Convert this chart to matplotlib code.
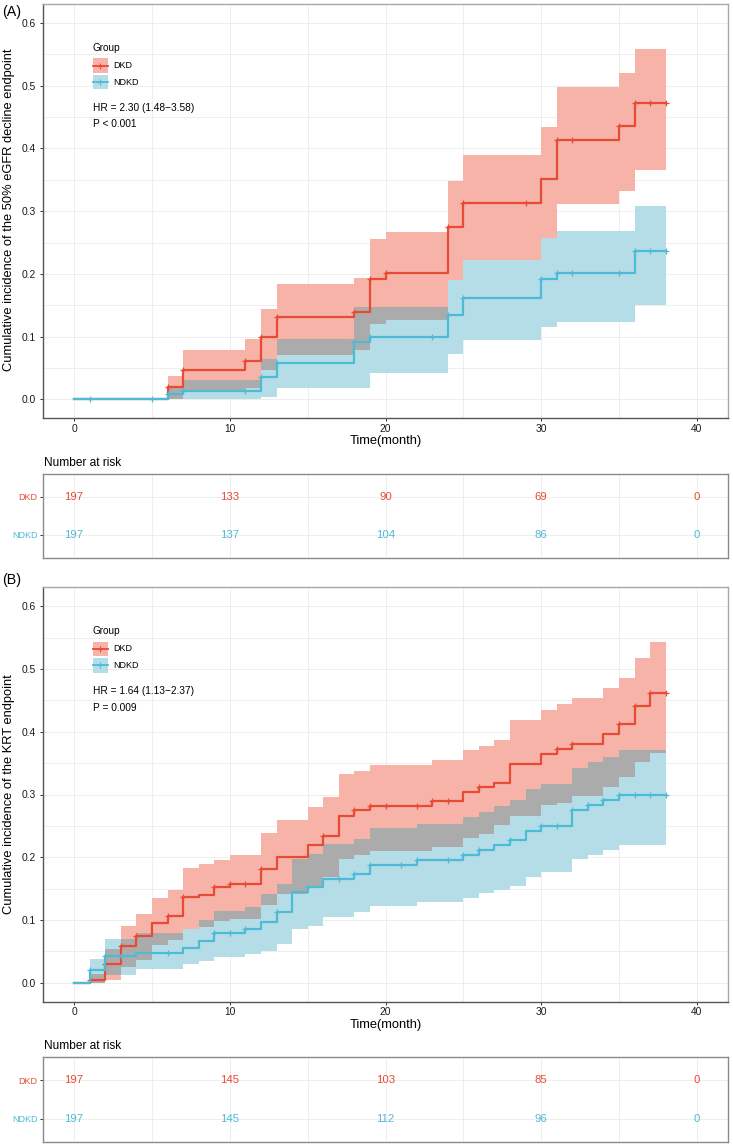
#%%
import matplotlib
matplotlib.use('Agg')
import matplotlib.pyplot as plt
from matplotlib.patches import Rectangle
from matplotlib.ticker import FormatStrFormatter
import numpy as np

plt.rcParams['font.family'] = ['Liberation Sans', 'DejaVu Sans']

#%% data
t_end = 38

# (A) 50% eGFR decline
a_dkd_t    = [0, 6, 7, 11, 12, 13, 18, 19, 20, 24, 25, 30, 31, 35, 36]
a_dkd_est  = [0, 0.020, 0.047, 0.061, 0.099, 0.132, 0.139, 0.192, 0.201, 0.274, 0.313, 0.352, 0.413, 0.435, 0.472]
a_dkd_hi   = [0, 0.038, 0.079, 0.097, 0.144, 0.184, 0.194, 0.256, 0.267, 0.348, 0.390, 0.434, 0.497, 0.520, 0.558]
a_dkd_lo   = [0, 0, 0.014, 0.018, 0.047, 0.071, 0.079, 0.120, 0.126, 0.190, 0.222, 0.257, 0.312, 0.332, 0.365]
a_dkd_cens = [6, 7, 11, 12, 13, 18, 19, 20, 24, 25, 29, 31, 32, 35, 36, 37, 38]

a_ndkd_t    = [0, 6, 7, 12, 13, 18, 19, 24, 25, 30, 31, 36]
a_ndkd_est  = [0, 0.008, 0.013, 0.036, 0.058, 0.091, 0.100, 0.135, 0.162, 0.192, 0.202, 0.237]
a_ndkd_hi   = [0, 0.0175, 0.031, 0.064, 0.096, 0.148, 0.148, 0.190, 0.222, 0.257, 0.269, 0.309]
a_ndkd_lo   = [0, 0, 0, 0.004, 0.018, 0.018, 0.042, 0.072, 0.094, 0.116, 0.124, 0.151]
a_ndkd_cens = [1, 5, 6, 7, 11, 12, 13, 18, 19, 23, 24, 25, 30, 31, 32, 35, 36, 37, 38]

# (B) KRT
b_dkd_t    = [0, 1, 2, 3, 4, 5, 6, 7, 8, 9, 10, 12, 13, 15, 16, 17, 18, 19, 23, 25,
              26, 27, 28, 30, 31, 32, 34, 35, 36, 37]
b_dkd_est  = [0, 0.005, 0.030, 0.058, 0.074, 0.095, 0.107, 0.136, 0.140, 0.152, 0.157, 0.182, 0.200, 0.220,
              0.234, 0.266, 0.275, 0.282, 0.289, 0.304, 0.312, 0.319, 0.349, 0.365, 0.373, 0.381, 0.397,
              0.413, 0.441, 0.462]
b_dkd_hi   = [0, 0.014, 0.054, 0.090, 0.110, 0.135, 0.148, 0.183, 0.189, 0.195, 0.203, 0.238, 0.259, 0.280,
              0.296, 0.332, 0.338, 0.347, 0.355, 0.371, 0.378, 0.387, 0.419, 0.435, 0.444, 0.453, 0.469,
              0.486, 0.517, 0.543]
b_dkd_lo   = [0, 0, 0.005, 0.025, 0.036, 0.060, 0.068, 0.086, 0.089, 0.099, 0.102, 0.124, 0.142, 0.155,
              0.168, 0.198, 0.203, 0.210, 0.216, 0.230, 0.237, 0.251, 0.266, 0.283, 0.287, 0.298, 0.312,
              0.328, 0.352, 0.366]
b_dkd_cens = [1, 2, 3, 4, 6, 7, 9, 10, 11, 12, 16, 18, 19, 20, 22, 23, 24, 26, 31, 32, 35, 36, 37, 38]

b_ndkd_t    = [0, 1, 2, 4, 7, 8, 9, 11, 12, 13, 14, 15, 16, 18, 19, 22, 25, 26, 27, 28, 29, 30, 32, 33, 34, 35]
b_ndkd_est  = [0, 0.020, 0.042, 0.047, 0.055, 0.067, 0.080, 0.086, 0.097, 0.113, 0.145, 0.153, 0.166,
               0.174, 0.188, 0.195, 0.203, 0.211, 0.219, 0.227, 0.242, 0.250, 0.275, 0.283, 0.291, 0.299]
b_ndkd_hi   = [0, 0.038, 0.070, 0.079, 0.086, 0.0995, 0.115, 0.1205, 0.142, 0.158, 0.197, 0.206, 0.2215,
               0.229, 0.247, 0.2536, 0.264, 0.272, 0.281, 0.292, 0.308, 0.316, 0.343, 0.352, 0.360, 0.3705]
b_ndkd_lo   = [0, 0, 0.012, 0.022, 0.030, 0.0355, 0.041, 0.046, 0.051, 0.062, 0.085, 0.091, 0.1045,
               0.1126, 0.123, 0.1286, 0.1355, 0.143, 0.148, 0.155, 0.168, 0.176, 0.1977, 0.203, 0.211, 0.219]
b_ndkd_cens = [1, 2, 3, 6, 9, 10, 11, 13, 15, 17, 18, 19, 21, 22, 24, 25, 26, 28, 30, 31, 32, 33, 34,
               35, 36, 37, 38]

# numbers at risk
risk_times  = [0, 10, 20, 30, 40]
a_risk_dkd  = [197, 133, 90, 69, 0]
a_risk_ndkd = [197, 137, 104, 86, 0]
b_risk_dkd  = [197, 145, 103, 85, 0]
b_risk_ndkd = [197, 145, 112, 96, 0]

groups = ['DKD', 'NDKD']

#%% styling
RED, BLUE = '#E64B35', '#4DBBD5'
RED_FILL, BLUE_FILL, OVERLAP = '#F8B3A8', '#B5DDE8', '#ABABAB'
GRID = '#EBEBEB'

W, H = 733, 1145
fig = plt.figure(figsize=(W/100, H/100), dpi=100)


def fx(px):
    return px/W


def fy(py):
    return 1 - py/H


def box(l, t, r, b):
    return [l/W, 1 - b/H, (r - l)/W, (b - t)/H]


def step_at(times, vals, x):
    idx = np.searchsorted(times, x, side='right') - 1
    return np.asarray(vals)[idx]


def km_panel(ax, dkd, ndkd, hr_txt, p_txt):
    grid = np.append(np.union1d(dkd['t'], ndkd['t']), t_end)
    r_lo, r_hi = step_at(dkd['t'], dkd['lo'], grid), step_at(dkd['t'], dkd['hi'], grid)
    b_lo, b_hi = step_at(ndkd['t'], ndkd['lo'], grid), step_at(ndkd['t'], ndkd['hi'], grid)
    # overlap of the two bands is shown in grey
    o_lo = np.maximum(r_lo, b_lo)
    o_hi = np.maximum(np.minimum(r_hi, b_hi), o_lo)

    ax.fill_between(grid, r_lo, r_hi, step='post', color=RED_FILL, lw=0)
    ax.fill_between(grid, b_lo, b_hi, step='post', color=BLUE_FILL, lw=0)
    ax.fill_between(grid, o_lo, o_hi, step='post', color=OVERLAP, lw=0)

    for d, c in ((dkd, RED), (ndkd, BLUE)):
        tt = np.append(d['t'], t_end)
        vv = np.append(d['est'], d['est'][-1])
        ax.step(tt, vv, where='post', color=c, lw=1.6)
        ax.plot(d['cens'], step_at(d['t'], d['est'], d['cens']), ls='none', marker='+',
                color=c, ms=5, mew=0.9)

    ax.set_xlim(-2, 42)
    ax.set_ylim(-0.03, 0.63)
    ax.set_xticks([0, 10, 20, 30, 40])
    ax.set_xticks([5, 15, 25, 35], minor=True)
    ax.set_yticks(np.arange(0, 0.61, 0.1))
    ax.set_yticks(np.arange(0.05, 0.6, 0.1), minor=True)
    ax.yaxis.set_major_formatter(FormatStrFormatter('%.1f'))
    ax.grid(which='both', color=GRID, lw=0.6)
    ax.set_axisbelow(True)
    ax.tick_params(which='minor', length=0)
    ax.tick_params(which='major', length=2.3, width=0.7, color='#333333',
                   labelsize=7.4, labelcolor='#1a1a1a')
    ax.tick_params(axis='x', pad=1.5)
    ax.tick_params(axis='y', pad=3)
    for s in ('top', 'right'):
        ax.spines[s].set_color('#A8A8A8')
        ax.spines[s].set_linewidth(1.0)
    for s in ('left', 'bottom'):
        ax.spines[s].set_color('#555555')
        ax.spines[s].set_linewidth(1.0)

    # legend, placed by pixel offsets from the top-left corner of the panel
    aw, ah = 685, 414.3

    def ax_xy(dx, dy):
        return dx/aw, 1 - dy/ah

    ax.text(*ax_xy(49.7, 43.7), 'Group', transform=ax.transAxes, fontsize=7.2,
            ha='left', va='center')
    for (y0, y1), lab, c, fc in zip(((54.3, 68.7), (71.0, 85.3)), groups,
                                    (RED, BLUE), (RED_FILL, BLUE_FILL)):
        x0, yb = ax_xy(49.7, y1)
        ax.add_patch(Rectangle((x0, yb), 15/aw, (y1 - y0)/ah, transform=ax.transAxes,
                               facecolor=fc, edgecolor='none', clip_on=False))
        ym = ax_xy(0, (y0 + y1)/2)[1]
        ax.plot([x0, x0 + 15/aw], [ym, ym], transform=ax.transAxes, color=c, lw=1.3,
                clip_on=False)
        ax.plot([x0 + 7.5/aw], [ym], transform=ax.transAxes, marker='+', color=c,
                ms=4.5, mew=0.8, clip_on=False)
        ax.text(*ax_xy(70.3, (y0 + y1)/2), lab, transform=ax.transAxes, fontsize=6.5,
                ha='left', va='center')

    ax.text(*ax_xy(49.7, 103.7), hr_txt, transform=ax.transAxes, fontsize=7.3,
            ha='left', va='center')
    ax.text(*ax_xy(49.7, 120.3), p_txt, transform=ax.transAxes, fontsize=7.3,
            ha='left', va='center')


def risk_table(ax, n_dkd, n_ndkd):
    ax.set_xlim(-2, 42)
    ax.set_ylim(0.4, 2.6)
    for x, n1, n2 in zip(risk_times, n_dkd, n_ndkd):
        ax.text(x, 2, str(n1), color=RED, ha='center', va='center', fontsize=8.2)
        ax.text(x, 1, str(n2), color=BLUE, ha='center', va='center', fontsize=8.2)
    ax.set_xticks(risk_times)
    ax.set_xticks([5, 15, 25, 35], minor=True)
    ax.set_xticklabels([])
    ax.set_yticks([2, 1])
    ax.set_yticklabels(groups)
    for lab, c in zip(ax.get_yticklabels(), (RED, BLUE)):
        lab.set_color(c)
    ax.grid(which='both', color=GRID, lw=0.6)
    ax.set_axisbelow(True)
    ax.tick_params(axis='x', which='both', length=0)
    ax.tick_params(axis='y', length=2.3, width=0.7, color='#333333', labelsize=6.5, pad=1.5)
    for s in ax.spines.values():
        s.set_color('#8A8A8A')
        s.set_linewidth(1.0)


#%% panel A
a_dkd  = dict(t=a_dkd_t, est=a_dkd_est, lo=a_dkd_lo, hi=a_dkd_hi, cens=a_dkd_cens)
a_ndkd = dict(t=a_ndkd_t, est=a_ndkd_est, lo=a_ndkd_lo, hi=a_ndkd_hi, cens=a_ndkd_cens)
ax_a = fig.add_axes(box(43, 4, 728, 418.3))
km_panel(ax_a, a_dkd, a_ndkd, 'HR = 2.30 (1.48\u22123.58)', 'P < 0.001')
tab_a = fig.add_axes(box(43, 474, 728, 557.7))
risk_table(tab_a, a_risk_dkd, a_risk_ndkd)

fig.text(fx(2.5), fy(12), '(A)', fontsize=10.3, ha='left', va='center')
fig.text(fx(9), fy(210), 'Cumulative incidence of the 50% eGFR decline endpoint',
         rotation=90, fontsize=9.3, ha='center', va='center')
fig.text(fx(386), fy(441), 'Time(month)', fontsize=9.3, ha='center', va='center')
fig.text(fx(44), fy(463), 'Number at risk', fontsize=8.6, ha='left', va='center')

#%% panel B
b_dkd  = dict(t=b_dkd_t, est=b_dkd_est, lo=b_dkd_lo, hi=b_dkd_hi, cens=b_dkd_cens)
b_ndkd = dict(t=b_ndkd_t, est=b_ndkd_est, lo=b_ndkd_lo, hi=b_ndkd_hi, cens=b_ndkd_cens)
ax_b = fig.add_axes(box(43, 587.3, 728, 1001.7))
km_panel(ax_b, b_dkd, b_ndkd, 'HR = 1.64 (1.13\u22122.37)', 'P = 0.009')
tab_b = fig.add_axes(box(43, 1057.3, 728, 1141.7))
risk_table(tab_b, b_risk_dkd, b_risk_ndkd)

fig.text(fx(2.5), fy(580), '(B)', fontsize=10.3, ha='left', va='center')
fig.text(fx(9), fy(794.5), 'Cumulative incidence of the KRT endpoint',
         rotation=90, fontsize=9.3, ha='center', va='center')
fig.text(fx(386), fy(1025), 'Time(month)', fontsize=9.3, ha='center', va='center')
fig.text(fx(44), fy(1046), 'Number at risk', fontsize=8.6, ha='left', va='center')

fig.savefig('out.png', dpi=100)
